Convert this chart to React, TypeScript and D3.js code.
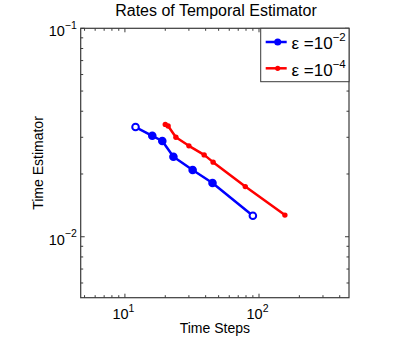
import React from "react";
import * as d3 from "d3";

const title = "Rates of Temporal Estimator";
const xLabel = "Time Steps";
const yLabel = "Time Estimator";

const blueSteps = [12, 16, 19, 23, 32, 45, 90];
const blueValues = [0.0336, 0.0305, 0.0288, 0.0242, 0.0209, 0.0181, 0.0126];
const blueHollow = [true, false, false, false, false, false, true];

const redSteps = [20, 21, 24, 30, 39, 45.5, 79, 156];
const redValues = [0.0346, 0.034, 0.03, 0.0273, 0.0247, 0.0228, 0.0174, 0.0127];

const xMajorTicks = [10, 100];
const xMajorExp = ["1", "2"];
const yMajorTicks = [0.1, 0.01];
const yMajorExp = ["\u22121", "\u22122"];
const legendExp = ["\u22122", "\u22124"];

const W = 415;
const H = 337;
const L = 80.7, R = 349, T = 28.3, B = 297.7;
const FONT = "'Liberation Sans', Arial, Helvetica, sans-serif";
const AX = "#3a3a3a";

export default function App() {
  const x = d3.scaleLog().domain([4.68, 469]).range([L, R]);
  const y = d3.scaleLog().domain([0.0051, 0.1]).range([B, T]);

  const xTicksAll: number[] = [];
  for (const dec of [1, 10, 100]) for (let k = 1; k <= 9; k++) {
    const v = k * dec;
    if (v >= 4.68 && v <= 469) xTicksAll.push(v);
  }
  const yTicksAll: number[] = [];
  for (const dec of [0.001, 0.01, 0.1]) for (let k = 1; k <= 9; k++) {
    const v = k * dec;
    if (v >= 0.0051 && v <= 0.1 + 1e-9) yTicksAll.push(v);
  }
  const isMajor = (v: number) => Math.abs(Math.log10(v) - Math.round(Math.log10(v))) < 1e-6;

  const line = d3.line<[number, number]>().x((d) => x(d[0])).y((d) => y(d[1]));
  const bluePts: [number, number][] = blueSteps.map((s, i) => [s, blueValues[i]]);
  const redPts: [number, number][] = redSteps.map((s, i) => [s, redValues[i]]);

  const legL = 260.7, legT = T, legB = 81.7;

  return (
    <svg width={W} height={H} style={{ position: "absolute", left: 0, top: 0, background: "#fff" }} fontFamily={FONT}>
      <rect x={0} y={0} width={W} height={H} fill="#fff" />
      <rect x={L} y={T} width={R - L} height={B - T} fill="#fff" />
      {/* ticks */}
      {xTicksAll.map((v) => {
        const len = isMajor(v) ? 4 : 2.5;
        const px = x(v);
        return (
          <g key={"xt" + v}>
            <line x1={px} x2={px} y1={B} y2={B - len} stroke={AX} strokeWidth={1} />
            <line x1={px} x2={px} y1={T} y2={T + len} stroke={AX} strokeWidth={1} />
          </g>
        );
      })}
      {yTicksAll.map((v) => {
        const len = isMajor(v) ? 4 : 2.5;
        const py = y(v);
        return (
          <g key={"yt" + v}>
            <line x1={L} x2={L + len} y1={py} y2={py} stroke={AX} strokeWidth={1} />
            <line x1={R} x2={R - len} y1={py} y2={py} stroke={AX} strokeWidth={1} />
          </g>
        );
      })}
      <rect x={L} y={T} width={R - L} height={B - T} fill="none" stroke={AX} strokeWidth={1.2} />
      {/* x tick labels */}
      {xMajorTicks.map((v, i) => (
        <text key={"xl" + v} x={x(v) - 1.5} y={319} fontSize={14.5} textAnchor="middle" fill="#000">
          10<tspan fontSize={10.5} dy={-7.5}>{xMajorExp[i]}</tspan>
        </text>
      ))}
      {yMajorTicks.map((v, i) => (
        <text key={"yl" + v} x={76.8} y={y(v) + 7.8} fontSize={14.5} textAnchor="end" fill="#000">
          10<tspan fontSize={10.5} dy={-7.5}>{yMajorExp[i]}</tspan>
        </text>
      ))}
      {/* data */}
      <path d={line(redPts) || ""} fill="none" stroke="#ff0000" strokeWidth={2.5} strokeLinejoin="round" />
      {redPts.map((p, i) => (
        <circle key={"r" + i} cx={x(p[0])} cy={y(p[1])} r={2.7} fill="#ff0000" />
      ))}
      <path d={line(bluePts) || ""} fill="none" stroke="#0000ff" strokeWidth={2.5} strokeLinejoin="round" />
      {bluePts.map((p, i) => (
        <circle key={"b" + i} cx={x(p[0])} cy={y(p[1])} r={3.3} fill={blueHollow[i] ? "#fff" : "#0000ff"} stroke="#0000ff" strokeWidth={2} />
      ))}
      {/* labels */}
      <text x={216} y={15.5} fontSize={16} textAnchor="middle" fill="#000">{title}</text>
      <text x={(L + R) / 2} y={333} fontSize={14} textAnchor="middle" fill="#000">{xLabel}</text>
      <text transform={`translate(42.5,${(T + B) / 2}) rotate(-90)`} fontSize={14} textAnchor="middle" fill="#000">{yLabel}</text>
      {/* legend */}
      <rect x={legL} y={legT} width={R - legL} height={legB - legT} fill="#fff" stroke={AX} strokeWidth={1} />
      <line x1={265.7} x2={286.7} y1={42} y2={42} stroke="#0000ff" strokeWidth={2.5} />
      <circle cx={277.7} cy={42} r={3.5} fill="#0000ff" />
      <line x1={265.7} x2={286.7} y1={68.3} y2={68.3} stroke="#ff0000" strokeWidth={2.5} />
      <circle cx={277.7} cy={68.3} r={2.6} fill="#ff0000" />
      {legendExp.map((e, i) => (
        <text key={"lg" + i} x={291.5} y={[49, 75.5][i]} fontSize={17} fill="#000">
          ε =10<tspan fontSize={11.5} dy={-8}>{e}</tspan>
        </text>
      ))}
    </svg>
  );
}
